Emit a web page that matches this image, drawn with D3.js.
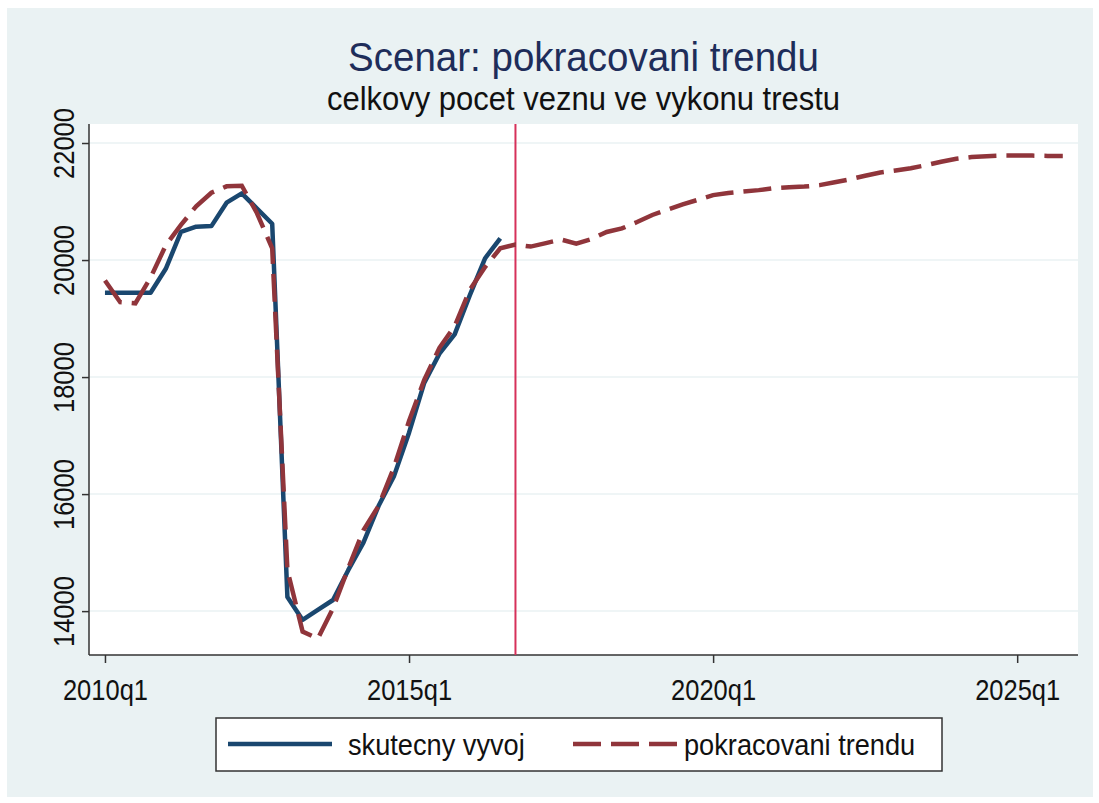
<!DOCTYPE html>
<html>
<head>
<meta charset="utf-8">
<script src="https://cdn.jsdelivr.net/npm/d3@7"></script>
<style>
	body { margin: 0; background: #fff; }
	text { font-family: "Liberation Sans", Arial, sans-serif; }
</style>
</head>
<body>
<script>

// quarters 2010q1 .. 2025q4
const quarters = [];
for (let y = 2010; y <= 2025; y++) {
	for (let q = 1; q <= 4; q++) quarters.push(y + 'q' + q);
}

// skutecny vyvoj (2010q1 - 2016q3)
const actual = [19440, 19440, 19440, 19440, 19850, 20480, 20570, 20580, 20980, 21140,
	20880, 20620, 14240, 13850, 14020, 14190, 14700, 15170, 15800, 16300,
	17050, 17900, 18400, 18730, 19400, 20030, 20370];

// pokracovani trendu (2010q1 - 2025q4)
const trend = [19650, 19280, 19260, 19700, 20250, 20600, 20920, 21150, 21260, 21270,
	20800, 20200, 14700, 13650, 13530, 14050, 14730, 15380, 15800, 16450,
	17250, 17950, 18500, 18870, 19490, 19880, 20200, 20265, 20230, 20290,
	20350, 20280, 20360, 20480, 20540, 20650, 20770, 20860, 20950, 21030,
	21110, 21145, 21170, 21195, 21230, 21245, 21255, 21280, 21330, 21380,
	21440, 21495, 21530, 21570, 21620, 21680, 21730, 21760, 21775, 21785,
	21785, 21785, 21780, 21780];

const xTickLabels = ['2010q1', '2015q1', '2020q1', '2025q1'];
const yTicks = [14000, 16000, 18000, 20000, 22000];
const breakQuarter = '2016q4';

const width = 1099;
const height = 803;
const pLeft = 89, pRight = 1078, pTop = 124, pBottom = 655;

const svg = d3.select('body')
	.append('svg')
	.attr('width', width)
	.attr('height', height);

// outer background
svg.append('rect')
	.attr('x', 7).attr('y', 8)
	.attr('width', 1086).attr('height', 789)
	.attr('fill', '#eaf2f3');

svg.append('rect')
	.attr('x', pLeft).attr('y', pTop)
	.attr('width', pRight - pLeft).attr('height', pBottom - pTop)
	.attr('fill', '#ffffff');

const xScale = d3.scaleLinear()
	.domain([-1.05, 64])
	.range([pLeft, pRight]);
const yScale = d3.scaleLinear()
	.domain([13250, 22325])
	.range([pBottom, pTop]);

// gridlines
svg.append('g')
	.selectAll('line')
	.data(yTicks)
	.enter()
	.append('line')
	.attr('x1', pLeft).attr('x2', pRight)
	.attr('y1', d => yScale(d)).attr('y2', d => yScale(d))
	.attr('stroke', '#eaf2f3')
	.attr('stroke-width', 1.5);

// axes
const xAxis = d3.axisBottom(xScale)
	.tickValues(xTickLabels.map(l => quarters.indexOf(l)))
	.tickFormat(i => quarters[i])
	.tickSize(8)
	.tickPadding(12)
	.tickSizeOuter(0);
const yAxis = d3.axisLeft(yScale)
	.tickValues(yTicks)
	.tickFormat(d3.format('d'))
	.tickSize(7)
	.tickSizeOuter(0);

const gx = svg.append('g')
	.attr('id', 'x-axis')
	.attr('transform', 'translate(0,' + pBottom + ')')
	.call(xAxis);
gx.select('.domain').attr('d', 'M' + pLeft + ',0H' + pRight);
gx.selectAll('text')
	.attr('font-size', 25.5)
	.attr('fill', '#111')
	.attr('transform', 'scale(1,1.18)');

const gy = svg.append('g')
	.attr('id', 'y-axis')
	.attr('transform', 'translate(' + pLeft + ',0)')
	.call(yAxis);
gy.select('.domain').attr('d', 'M0,' + pTop + 'V' + pBottom);
gy.selectAll('text')
	.attr('font-size', 25.5)
	.attr('fill', '#111')
	.attr('text-anchor', 'middle')
	.attr('x', 0).attr('y', 0)
	.attr('dy', 0)
	.attr('transform', 'translate(-15,0) rotate(-90) scale(1,1.18)');

svg.selectAll('.domain, .tick line')
	.attr('stroke', '#333')
	.attr('stroke-width', 1.5);

// vertical break line
const bx = xScale(quarters.indexOf(breakQuarter));
svg.append('line')
	.attr('x1', bx).attr('x2', bx)
	.attr('y1', pTop).attr('y2', pBottom)
	.attr('stroke', '#d6315a')
	.attr('stroke-width', 2);

const line = d3.line()
	.x((d, i) => xScale(i))
	.y(d => yScale(d));

svg.append('path')
	.datum(actual)
	.attr('d', line)
	.attr('fill', 'none')
	.attr('stroke', '#1a476f')
	.attr('stroke-width', 4.5)
	.attr('stroke-linejoin', 'round');

svg.append('path')
	.datum(trend)
	.attr('d', line)
	.attr('fill', 'none')
	.attr('stroke', '#90353b')
	.attr('stroke-width', 4.5)
	.attr('stroke-dasharray', '28,10');

// titles
const cx = (pLeft + pRight) / 2;
svg.append('text')
	.attr('transform', 'translate(' + cx + ',71) scale(1,1.05)')
	.attr('text-anchor', 'middle')
	.attr('font-size', 38.5)
	.attr('fill', '#1e2d5a')
	.text('Scenar: pokracovani trendu');

svg.append('text')
	.attr('transform', 'translate(' + cx + ',110) scale(1,1.05)')
	.attr('text-anchor', 'middle')
	.attr('font-size', 31)
	.attr('fill', '#111')
	.text('celkovy pocet veznu ve vykonu trestu');

// legend
const legend = svg.append('g');
legend.append('rect')
	.attr('x', 216).attr('y', 718)
	.attr('width', 726).attr('height', 53)
	.attr('fill', '#fff')
	.attr('stroke', '#333')
	.attr('stroke-width', 1.5);

const items = [
	{ label: 'skutecny vyvoj', color: '#1a476f', dash: null, x: 228, tx: 348 },
	{ label: 'pokracovani trendu', color: '#90353b', dash: '28,10', x: 573, tx: 684 }
];
items.forEach(it => {
	legend.append('line')
		.attr('x1', it.x).attr('x2', it.x + 104)
		.attr('y1', 744).attr('y2', 744)
		.attr('stroke', it.color)
		.attr('stroke-width', 4.5)
		.attr('stroke-dasharray', it.dash);
	legend.append('text')
		.attr('transform', 'translate(' + it.tx + ',755) scale(1,1.1)')
		.attr('font-size', 27.2)
		.attr('fill', '#111')
		.text(it.label);
});

</script>
</body>
</html>
